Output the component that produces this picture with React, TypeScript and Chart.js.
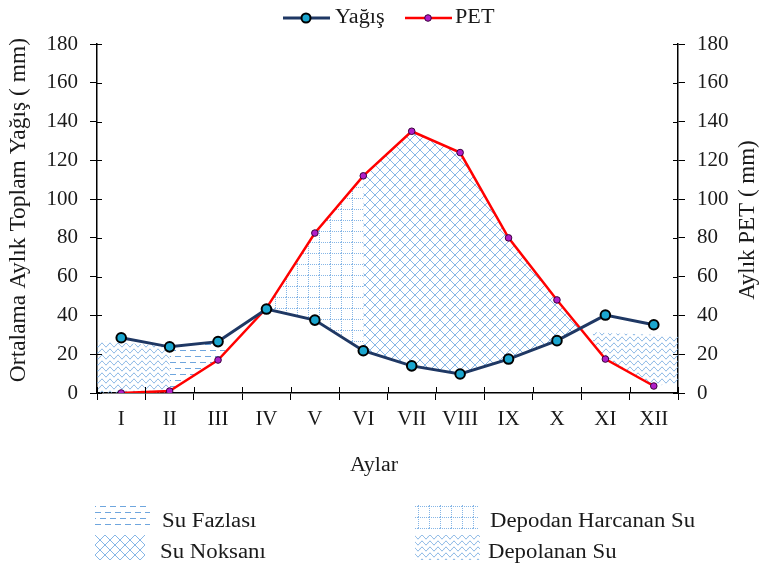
import React, { useEffect, useRef } from "react";
import { Chart, registerables } from "chart.js";
Chart.register(...registerables);

const months = ["I", "II", "III", "IV", "V", "VI", "VII", "VIII", "IX", "X", "XI", "XII"];
const yagis = [28.5, 23.8, 26.5, 43.3, 37.6, 21.8, 14, 9.8, 17.5, 27, 40.2, 35.2];
const pet = [0, 1, 17, 43.8, 82.5, 112, 135, 124, 80, 48, 17.5, 3.6];

// pattern areas (x = month index, -0.5 / 11.5 = plot edges)
const depLeftX = [-0.5, 1];
const depLeftTop = [27, 24];
const fazlaX = [1, 2, 2.15];
const fazlaTop = [24.5, 25.5, 25.5];
const fazlaBottom = [1, 17, 19.5];
const harcX = [3, 4, 5];
const harcTop = [43.8, 82.5, 112];
const harcBottom = [43.3, 37.6, 21.8];
const noksX = [5, 6, 7, 8, 9, 9.49];
const noksTop = [112, 135, 124, 80, 48, 33.4];
const noksBottom = [21.8, 14, 9.8, 17.5, 27, 33.4];
const depRightX = [9.74, 10, 11, 11.5];
const depRightTop = [31.5, 31, 30, 29];
const depRightBottom = [25.8, 18, 3.6, 5];

const legendItems = ["Su Fazlası", "Su Noksanı", "Depodan Harcanan Su", "Depolanan Su"];
const FONT = "'Liberation Serif', 'Times New Roman', serif";
const TXT = "#1a1a1a";
const PAT = "#6fa6de";
const PAT_LIGHT = "#86b6e6";

function pts(xs: number[], ys: number[]) {
  return xs.map((x, i) => ({ x, y: ys[i] }));
}

function makeTile(w: number, h: number, draw: (g: CanvasRenderingContext2D) => void) {
  const c = document.createElement("canvas");
  c.width = w;
  c.height = h;
  const g = c.getContext("2d")!;
  draw(g);
  return c;
}

export default function App() {
  const ref = useRef<HTMLCanvasElement>(null);
  useEffect(() => {
    document.body.style.margin = "0";
    const canvas = ref.current!;
    const ctx = canvas.getContext("2d")!;

    const waveTile = makeTile(8, 6, (g) => {
      g.strokeStyle = PAT;
      g.lineWidth = 1;
      g.beginPath();
      for (let x = 0; x <= 8; x += 0.5) {
        const y = 3 + 1.8 * Math.sin((2 * Math.PI * x) / 8);
        if (x === 0) g.moveTo(x, y);
        else g.lineTo(x, y);
      }
      g.stroke();
    });
    const dashTile = makeTile(10, 12, (g) => {
      g.fillStyle = PAT;
      g.fillRect(0, 2, 6, 1);
      g.fillRect(5, 8, 5, 1);
      g.fillRect(0, 8, 1, 1);
    });
    const dotTile = makeTile(11, 11, (g) => {
      g.fillStyle = PAT_LIGHT;
      for (let i = 0; i < 11; i += 2) {
        g.fillRect(0, i, 1, 1);
        g.fillRect(i, 0, 1, 1);
      }
    });
    const crossTile = makeTile(10, 10, (g) => {
      g.strokeStyle = PAT_LIGHT;
      g.lineWidth = 1;
      g.beginPath();
      g.moveTo(-1, -1);
      g.lineTo(11, 11);
      g.moveTo(11, -1);
      g.lineTo(-1, 11);
      g.stroke();
    });
    const wave = ctx.createPattern(waveTile, "repeat")!;
    const dash = ctx.createPattern(dashTile, "repeat")!;
    const dot = ctx.createPattern(dotTile, "repeat")!;
    const cross = ctx.createPattern(crossTile, "repeat")!;

    const hidden = {
      xAxisID: "x2",
      yAxisID: "y",
      borderWidth: 0,
      pointRadius: 0,
      pointHoverRadius: 0,
      borderColor: "rgba(0,0,0,0)",
      tension: 0,
      order: 5,
    };

    const stretchText = (c: CanvasRenderingContext2D, text: string, x: number, y: number, sx: number) => {
      c.save();
      c.translate(x, y);
      c.scale(sx, 1);
      c.fillText(text, 0, 0);
      c.restore();
    };

    const decor = {
      id: "decor",
      afterDraw(chart: any) {
        const c = chart.ctx as CanvasRenderingContext2D;
        const { y, y2 } = chart.scales;
        const area = chart.chartArea;
        c.save();
        // inner tick parts (cross ticks)
        c.strokeStyle = "#000";
        c.lineWidth = 1;
        c.beginPath();
        for (let i = 0; i <= months.length; i++) {
          const px = Math.round(area.left + ((area.right - area.left) * i) / months.length) + 0.5;
          c.moveTo(px, area.bottom);
          c.lineTo(px, area.bottom - 6);
        }
        y.ticks.forEach((_t: any, i: number) => {
          const py = Math.round(y.getPixelForTick(i)) + 0.5;
          c.moveTo(area.left, py);
          c.lineTo(area.left + 5, py);
        });
        y2.ticks.forEach((_t: any, i: number) => {
          const py = Math.round(y2.getPixelForTick(i)) + 0.5;
          c.moveTo(area.right, py);
          c.lineTo(area.right - 5, py);
        });
        c.stroke();

        // axis titles
        c.fillStyle = TXT;
        c.textBaseline = "middle";
        c.textAlign = "center";
        c.font = `20px ${FONT}`;
        stretchText(c, "Aylar", 374, 466, 1.1);
        c.font = `23.5px ${FONT}`;
        c.save();
        c.translate(19, 210);
        c.rotate(-Math.PI / 2);
        c.fillText("Ortalama Aylık Toplam Yağış ( mm)", 0, 0);
        c.restore();
        c.font = `23px ${FONT}`;
        c.save();
        c.translate(748, 220);
        c.rotate(-Math.PI / 2);
        c.fillText("Aylık PET ( mm)", 0, 0);
        c.restore();

        // top legend
        c.lineWidth = 3;
        c.strokeStyle = "#1f3864";
        c.beginPath();
        c.moveTo(283, 18);
        c.lineTo(330, 18);
        c.stroke();
        c.beginPath();
        c.arc(306, 18, 4.5, 0, Math.PI * 2);
        c.fillStyle = "#1ba6cf";
        c.fill();
        c.lineWidth = 2;
        c.strokeStyle = "#000";
        c.stroke();
        c.lineWidth = 2.5;
        c.strokeStyle = "#ff0000";
        c.beginPath();
        c.moveTo(405, 18);
        c.lineTo(452, 18);
        c.stroke();
        c.beginPath();
        c.arc(428, 18, 3.3, 0, Math.PI * 2);
        c.fillStyle = "#b01ec8";
        c.fill();
        c.lineWidth = 1;
        c.strokeStyle = "#3a003a";
        c.stroke();
        c.fillStyle = TXT;
        c.textAlign = "left";
        c.font = `20px ${FONT}`;
        stretchText(c, "Yağış", 335, 18, 1.11);
        stretchText(c, "PET", 455, 18, 1.11);

        // bottom legend
        const sw = [
          { p: dash, r: [95, 506, 55, 21], t: [162, 522] },
          { p: cross, r: [95, 535, 50, 25], t: [160, 553] },
          { p: dot, r: [415, 505, 63, 24], t: [490, 522] },
          { p: wave, r: [415, 535, 65, 25], t: [488, 553] },
        ];
        sw.forEach((s, i) => {
          c.fillStyle = s.p;
          c.fillRect(s.r[0], s.r[1], s.r[2], s.r[3]);
          c.fillStyle = TXT;
          stretchText(c, legendItems[i], s.t[0], s.t[1], 1.14);
        });
        c.restore();
      },
    };

    const tickFont = { family: FONT, size: 21 };

    const chart = new Chart(canvas, {
      type: "line",
      data: {
        labels: months,
        datasets: [
          {
            label: "Yağış",
            data: yagis,
            xAxisID: "x",
            yAxisID: "y",
            borderColor: "#1f3864",
            borderWidth: 3,
            pointRadius: 4.8,
            pointBackgroundColor: "#1ba6cf",
            pointBorderColor: "#000",
            pointBorderWidth: 2,
            tension: 0,
            fill: false,
            order: 0,
          } as any,
          {
            label: "PET",
            data: pet,
            xAxisID: "x",
            yAxisID: "y2",
            borderColor: "#ff0000",
            borderWidth: 2.5,
            pointRadius: 3.3,
            pointBackgroundColor: "#b01ec8",
            pointBorderColor: "#3a003a",
            pointBorderWidth: 1,
            tension: 0,
            fill: false,
            order: 0,
          },
          { ...hidden, label: "dep1", data: pts(depLeftX, depLeftTop), fill: "origin", backgroundColor: wave },
          { ...hidden, label: "faz", data: pts(fazlaX, fazlaTop), fill: 4, backgroundColor: dash },
          { ...hidden, label: "fazb", data: pts(fazlaX, fazlaBottom), fill: false },
          { ...hidden, label: "harc", data: pts(harcX, harcTop), fill: 6, backgroundColor: dot },
          { ...hidden, label: "harcb", data: pts(harcX, harcBottom), fill: false },
          { ...hidden, label: "noks", data: pts(noksX, noksTop), fill: 8, backgroundColor: cross },
          { ...hidden, label: "noksb", data: pts(noksX, noksBottom), fill: false },
          { ...hidden, label: "dep2", data: pts(depRightX, depRightTop), fill: 10, backgroundColor: wave },
          { ...hidden, label: "dep2b", data: pts(depRightX, depRightBottom), fill: false },
        ] as any,
      },
      options: {
        animation: false,
        responsive: false,
        layout: { padding: { top: 44, left: 0, right: 0, bottom: 92 } },
        plugins: {
          legend: { display: false },
          tooltip: { enabled: false },
        },
        scales: {
          x: {
            type: "category",
            offset: true,
            grid: { offset: true, drawOnChartArea: false, tickLength: 7, color: "#000" },
            border: { color: "#000", width: 1.5 },
            ticks: { font: tickFont, color: TXT, padding: 7, maxRotation: 0, autoSkip: false },
            afterFit: (s: any) => {
              s.height = 85;
            },
          },
          x2: { type: "linear", min: -0.5, max: 11.5, display: false },
          y: {
            position: "left",
            min: 0,
            max: 180,
            ticks: { stepSize: 20, font: tickFont, color: TXT, padding: 12 },
            grid: { drawOnChartArea: false, tickLength: 7, color: "#000" },
            border: { color: "#000", width: 1.5 },
            afterFit: (s: any) => {
              s.width = 97;
            },
          },
          y2: {
            position: "right",
            min: 0,
            max: 180,
            ticks: { stepSize: 20, font: tickFont, color: TXT, padding: 12 },
            grid: { drawOnChartArea: false, tickLength: 7, color: "#000" },
            border: { color: "#000", width: 1.5 },
            afterFit: (s: any) => {
              s.width = 83;
            },
          },
        },
      } as any,
      plugins: [decor],
    });
    return () => chart.destroy();
  }, []);
  return (
    <div style={{ width: 761, height: 570 }}>
      <canvas ref={ref} width={761} height={570} style={{ width: 761, height: 570, display: "block" }} />
    </div>
  );
}
